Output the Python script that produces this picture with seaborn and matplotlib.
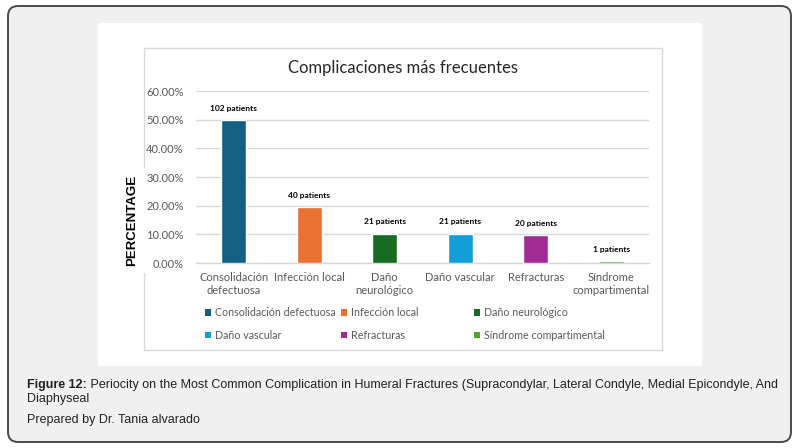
import matplotlib
matplotlib.use("Agg")
import matplotlib.pyplot as plt
import seaborn as sns
import pandas as pd
from matplotlib.patches import FancyBboxPatch, Rectangle, Patch
from matplotlib.lines import Line2D
from matplotlib.transforms import IdentityTransform

# ---- data ----
categories = ["Consolidación defectuosa", "Infección local", "Daño neurológico",
              "Daño vascular", "Refracturas", "Síndrome compartimental"]
tick_labels = ["Consolidación\ndefectuosa", "Infección local", "Daño\nneurológico",
               "Daño vascular", "Refracturas", "Síndrome\ncompartimental"]
percentages = [49.8, 19.5, 10.2, 10.2, 9.8, 0.6]
patients = [102, 40, 21, 21, 20, 1]
colors = ["#156082", "#E97132", "#196B24", "#0F9ED5", "#A02B93", "#4EA72E"]
yticks = [0, 10, 20, 30, 40, 50, 60]

title = "Complicaciones más frecuentes"
ylabel = "PERCENTAGE"
caption_bold = "Figure 12:"
caption_rest = (" Periocity on the Most Common Complication in Humeral Fractures "
                "(Supracondylar, Lateral Condyle, Medial Epicondyle, And")
caption_line2 = "Diaphyseal"
caption_line3 = "Prepared by Dr. Tania alvarado"

df = pd.DataFrame({"cat": categories, "pct": percentages})

sns.set_theme(style="white")
CHART_FONT = ["Lato", "DejaVu Sans"]
CAP_FONT = ["Liberation Sans", "DejaVu Sans"]
plt.rcParams["font.family"] = CHART_FONT

W, H = 806, 448
fig = plt.figure(figsize=(W / 100, H / 100), dpi=100)
fig.patch.set_facecolor("white")
ident = IdentityTransform()


def rect_px(x0, y0, x1, y1, **kw):
    """rectangle in pixel coords with y measured from the top"""
    return Rectangle((x0, H - y1), x1 - x0, y1 - y0, transform=ident, **kw)


# outer rounded frame
frame = FancyBboxPatch((8, H - 442), 783, 436, boxstyle="round,pad=0,rounding_size=10",
                       transform=ident, facecolor="#f0f0f0", edgecolor="#4a4a4a",
                       linewidth=1.4, zorder=-20)
fig.add_artist(frame)
# white card
fig.add_artist(rect_px(98, 23, 702, 366, facecolor="white", edgecolor="none", zorder=-19))
# inner chart border (left side broken around the y label)
bc = "#d9d9d9"
for (xa, ya, xb, yb) in [(144, 48, 662, 48), (662, 48, 662, 350), (144, 350, 662, 350),
                         (144, 48, 144, 167), (144, 273, 144, 350)]:
    fig.add_artist(Line2D([xa, xb], [H - ya, H - yb], transform=ident, color=bc,
                          linewidth=1.0, zorder=-18))

# ---- axes ----
ax_l, ax_r, ax_t, ax_b = 196, 649, 91, 263
ax = fig.add_axes([ax_l / W, 1 - ax_b / H, (ax_r - ax_l) / W, (ax_b - ax_t) / H])
ax.set_facecolor("none")

sns.barplot(data=df, x="cat", y="pct", hue="cat", palette=colors, width=0.33,
            dodge=False, legend=False, ax=ax, saturation=1, zorder=3)

ax.set_ylim(0, 60)
ax.set_yticks(yticks)
ax.set_yticklabels([f"{v:.2f}%" for v in yticks], color="#595959", fontsize=8)
ax.set_xticks(range(len(categories)))
ax.set_xticklabels(tick_labels, color="#595959", fontsize=8, linespacing=1.2)
ax.tick_params(axis="both", length=0)
ax.tick_params(axis="y", pad=9)
ax.tick_params(axis="x", pad=6.5)
ax.set_xlabel("")
ax.set_ylabel("")
ax.yaxis.grid(True, color="#d9d9d9", linewidth=1.0)
ax.set_axisbelow(True)
for s in ["left", "right", "top"]:
    ax.spines[s].set_visible(False)
ax.spines["bottom"].set_color("#d9d9d9")
ax.spines["bottom"].set_linewidth(1.0)
ax.spines["bottom"].set_zorder(1)
ax.set_xlim(-0.5, len(categories) - 0.5)

for cont, n in zip(ax.containers, patients):
    ax.bar_label(cont, labels=[f"{n} patients"], padding=6, fontsize=6,
                 fontweight="bold", color="black")

# title
fig.text(403 / W, 1 - 68 / H, title, ha="center", va="center", fontsize=12,
         color="#262626")
# y label
fig.text(132 / W, 1 - 220 / H, ylabel, rotation=90, ha="center", va="center",
         fontsize=9.5, fontweight="bold", color="black", family=CAP_FONT)

# legend: three columns, two rows
handles = [Patch(facecolor=c, edgecolor="none") for c in colors]
col_x = [205, 341, 474]
for ci in range(3):
    idx = [ci, ci + 3]
    fig.legend([handles[i] for i in idx], [categories[i] for i in idx],
               loc="upper left", bbox_to_anchor=(col_x[ci] / W, 1 - 307 / H),
               frameon=False, fontsize=7.7, handlelength=0.58, handleheight=0.58,
               handletextpad=0.35, labelspacing=1.1, borderpad=0,
               borderaxespad=0, labelcolor="#595959")

# caption
fig.canvas.draw()
r = fig.canvas.get_renderer()
t1 = fig.text(27 / W, 1 - 385 / H, caption_bold, ha="left", va="center", fontsize=9,
              fontweight="bold", color="#222222", family=CAP_FONT)
bb = t1.get_window_extent(renderer=r)
fig.text(bb.x1 / W, 1 - 385 / H, caption_rest, ha="left", va="center", fontsize=9,
         color="#222222", family=CAP_FONT)
fig.text(27 / W, 1 - 399 / H, caption_line2, ha="left", va="center", fontsize=9,
         color="#222222", family=CAP_FONT)
fig.text(27 / W, 1 - 420 / H, caption_line3, ha="left", va="center", fontsize=9,
         color="#222222", family=CAP_FONT)

fig.savefig("out.png", dpi=100, facecolor=fig.get_facecolor())
